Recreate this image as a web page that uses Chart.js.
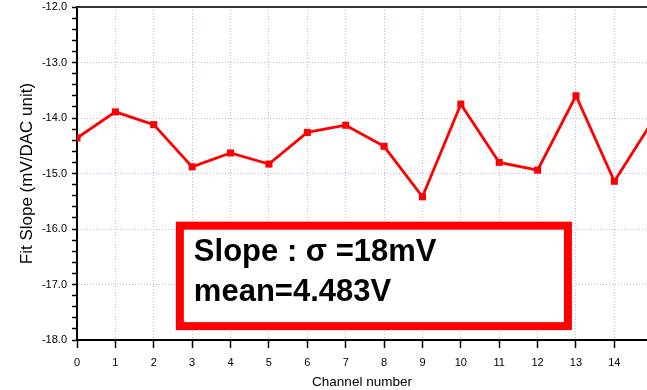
<!DOCTYPE html>
<html>
<head>
<meta charset="utf-8">
<script src="https://cdn.jsdelivr.net/npm/chart.js@4/dist/chart.umd.min.js"></script>
<style>
  html, body { margin: 0; padding: 0; background: #fff; overflow: hidden; }
  canvas { display: block; }
</style>
</head>
<body>
<canvas id="slopeChart" width="647" height="390"></canvas>
<script>
  const channels = [0, 1, 2, 3, 4, 5, 6, 7, 8, 9, 10, 11, 12, 13, 14, 15];
  const slopes = [-14.36, -13.89, -14.12, -14.88, -14.63, -14.83, -14.26, -14.13,
                  -14.51, -15.42, -13.75, -14.80, -14.94, -13.60, -15.14, -14.05];
  const noteLines = ['Slope : \u03c3 =18mV', 'mean=4.483V'];

  // annotation box, in data units
  const noteBox = { x0: 2.68, x1: 12.79, y0: -15.94, y1: -17.75 };

  const sans = "'Liberation Sans', Arial, sans-serif";
  const gridColor = '#bcbcf4';

  const framePlugin = {
    id: 'frame',
    afterDatasetsDraw(chart) {
      const { ctx, chartArea, scales } = chart;
      ctx.save();
      // top border
      ctx.strokeStyle = '#333';
      ctx.lineWidth = 2;
      ctx.beginPath();
      ctx.moveTo(chartArea.left, chartArea.top);
      ctx.lineTo(chartArea.right, chartArea.top);
      ctx.stroke();

      // note box
      const x0 = scales.x.getPixelForValue(noteBox.x0);
      const x1 = scales.x.getPixelForValue(noteBox.x1);
      const y0 = scales.y.getPixelForValue(noteBox.y0);
      const y1 = scales.y.getPixelForValue(noteBox.y1);
      ctx.fillStyle = '#fff';
      ctx.fillRect(x0, y0, x1 - x0, y1 - y0);
      ctx.strokeStyle = '#ff0000';
      ctx.lineWidth = 8;
      ctx.strokeRect(x0, y0, x1 - x0, y1 - y0);

      ctx.fillStyle = '#000';
      ctx.font = "bold 31px " + sans;
      ctx.textBaseline = 'alphabetic';
      ctx.textAlign = 'left';
      ctx.fillText(noteLines[0], x0 + 14, y0 + 35);
      ctx.fillText(noteLines[1], x0 + 14, y0 + 75);
      ctx.restore();
    }
  };

  const isMajor = (v) => Math.abs(v - Math.round(v)) < 1e-6;

  new Chart(document.getElementById('slopeChart'), {
    type: 'line',
    data: {
      datasets: [{
        data: channels.map((c, i) => ({ x: c, y: slopes[i] })),
        borderColor: '#ff0000',
        backgroundColor: '#ff0000',
        borderWidth: 2.8,
        pointStyle: 'rect',
        pointRadius: 5,
        pointBorderWidth: 0,
        tension: 0,
        clip: 0,
      }],
    },
    options: {
      responsive: false,
      devicePixelRatio: 1,
      animation: false,
      layout: { padding: 0, autoPadding: false },
      scales: {
        x: {
          type: 'linear',
          min: 0,
          max: 14.85,
          afterFit: (scale) => {
            scale.height = 50;
            scale.paddingRight = 0;
            scale.paddingLeft = 0;
          },
          ticks: {
            stepSize: 1,
            includeBounds: false,
            autoSkip: false,
            maxRotation: 0,
            padding: 8,
            color: '#000',
            font: { family: sans, size: 11 },
            callback: (v) => isMajor(v) ? String(Math.round(v)) : '',
          },
          grid: {
            color: gridColor,
            lineWidth: 1,
            tickColor: '#000',
            tickLength: 8,
            tickWidth: 1.5,
            tickBorderDash: [],
          },
          border: { color: '#000', width: 2, dash: [1, 2] },
          title: {
            display: true,
            text: 'Channel number',
            color: '#000',
            font: { family: sans, size: 13.5 },
            padding: { top: 0, bottom: 0 },
          },
        },
        y: {
          min: -18,
          max: -12,
          afterFit: (scale) => {
            scale.width = 77;
            scale.paddingTop = 7;
            scale.paddingBottom = 0;
          },
          ticks: {
            stepSize: 0.2,
            autoSkip: false,
            padding: 5,
            color: '#000',
            font: { family: sans, size: 11 },
            callback: (v) => isMajor(v) ? v.toFixed(1) : '',
          },
          grid: {
            color: (ctx) => (ctx.tick && isMajor(ctx.tick.value)) ? gridColor : 'rgba(0,0,0,0)',
            lineWidth: 1,
            tickColor: '#000',
            tickLength: 5,
            tickWidth: 1.5,
            tickBorderDash: [],
          },
          border: { color: '#000', width: 2, dash: [1, 2] },
          title: {
            display: true,
            text: 'Fit Slope (mV/DAC unit)',
            color: '#000',
            font: { family: sans, size: 17 },
            padding: { top: 17, bottom: 0 },
          },
        },
      },
      plugins: {
        legend: { display: false },
        tooltip: { enabled: false },
      },
    },
    plugins: [framePlugin],
  });
</script>
</body>
</html>
